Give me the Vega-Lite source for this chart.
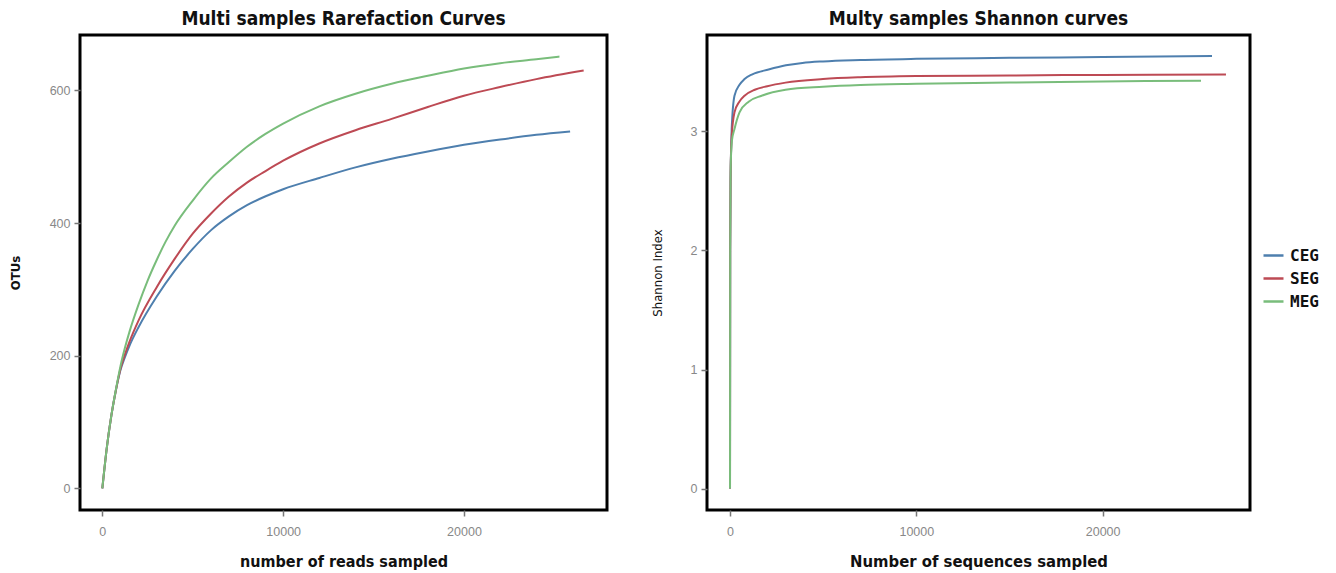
{
  "$schema": "https://vega.github.io/schema/vega-lite/v6.json",
  "background": "white",
  "padding": {"left": 7, "top": 8, "right": 5, "bottom": 5},
  "spacing": 40,
  "datasets": {
    "rare": [
      {"group": "CEG", "reads": 0, "otus": 0},
      {"group": "CEG", "reads": 250, "otus": 62},
      {"group": "CEG", "reads": 500, "otus": 110},
      {"group": "CEG", "reads": 750, "otus": 148},
      {"group": "CEG", "reads": 1000, "otus": 178},
      {"group": "CEG", "reads": 1250, "otus": 198},
      {"group": "CEG", "reads": 1500, "otus": 215},
      {"group": "CEG", "reads": 2000, "otus": 243},
      {"group": "CEG", "reads": 3000, "otus": 289},
      {"group": "CEG", "reads": 4000, "otus": 328},
      {"group": "CEG", "reads": 5000, "otus": 361},
      {"group": "CEG", "reads": 6000, "otus": 389},
      {"group": "CEG", "reads": 7000, "otus": 410},
      {"group": "CEG", "reads": 8000, "otus": 427},
      {"group": "CEG", "reads": 9000, "otus": 440},
      {"group": "CEG", "reads": 10000, "otus": 451},
      {"group": "CEG", "reads": 12000, "otus": 468},
      {"group": "CEG", "reads": 14000, "otus": 484},
      {"group": "CEG", "reads": 16000, "otus": 497},
      {"group": "CEG", "reads": 18000, "otus": 508},
      {"group": "CEG", "reads": 20000, "otus": 518},
      {"group": "CEG", "reads": 22000, "otus": 526},
      {"group": "CEG", "reads": 24000, "otus": 533},
      {"group": "CEG", "reads": 25870, "otus": 538},
      {"group": "SEG", "reads": 0, "otus": 0},
      {"group": "SEG", "reads": 250, "otus": 62},
      {"group": "SEG", "reads": 500, "otus": 110},
      {"group": "SEG", "reads": 750, "otus": 148},
      {"group": "SEG", "reads": 1000, "otus": 180},
      {"group": "SEG", "reads": 1250, "otus": 202},
      {"group": "SEG", "reads": 1500, "otus": 221},
      {"group": "SEG", "reads": 2000, "otus": 253},
      {"group": "SEG", "reads": 3000, "otus": 303},
      {"group": "SEG", "reads": 4000, "otus": 346},
      {"group": "SEG", "reads": 5000, "otus": 384},
      {"group": "SEG", "reads": 6000, "otus": 414},
      {"group": "SEG", "reads": 7000, "otus": 440},
      {"group": "SEG", "reads": 8000, "otus": 461},
      {"group": "SEG", "reads": 9000, "otus": 478},
      {"group": "SEG", "reads": 10000, "otus": 494},
      {"group": "SEG", "reads": 12000, "otus": 520},
      {"group": "SEG", "reads": 14000, "otus": 540},
      {"group": "SEG", "reads": 16000, "otus": 557},
      {"group": "SEG", "reads": 18000, "otus": 575},
      {"group": "SEG", "reads": 20000, "otus": 592},
      {"group": "SEG", "reads": 22000, "otus": 605},
      {"group": "SEG", "reads": 24000, "otus": 617},
      {"group": "SEG", "reads": 26620, "otus": 630},
      {"group": "MEG", "reads": 0, "otus": 0},
      {"group": "MEG", "reads": 250, "otus": 62},
      {"group": "MEG", "reads": 500, "otus": 110},
      {"group": "MEG", "reads": 750, "otus": 149},
      {"group": "MEG", "reads": 1000, "otus": 184},
      {"group": "MEG", "reads": 1250, "otus": 212},
      {"group": "MEG", "reads": 1500, "otus": 236},
      {"group": "MEG", "reads": 2000, "otus": 277},
      {"group": "MEG", "reads": 2500, "otus": 313},
      {"group": "MEG", "reads": 3000, "otus": 344},
      {"group": "MEG", "reads": 3500, "otus": 372},
      {"group": "MEG", "reads": 4000, "otus": 396},
      {"group": "MEG", "reads": 5000, "otus": 434},
      {"group": "MEG", "reads": 6000, "otus": 467},
      {"group": "MEG", "reads": 7000, "otus": 492},
      {"group": "MEG", "reads": 8000, "otus": 515},
      {"group": "MEG", "reads": 9000, "otus": 534},
      {"group": "MEG", "reads": 10000, "otus": 550},
      {"group": "MEG", "reads": 12000, "otus": 576},
      {"group": "MEG", "reads": 14000, "otus": 595},
      {"group": "MEG", "reads": 16000, "otus": 610},
      {"group": "MEG", "reads": 18000, "otus": 622},
      {"group": "MEG", "reads": 20000, "otus": 633},
      {"group": "MEG", "reads": 22000, "otus": 641},
      {"group": "MEG", "reads": 24000, "otus": 647},
      {"group": "MEG", "reads": 25280, "otus": 651}
    ],
    "shannon": [
      {"group": "CEG", "reads": 0, "shannon": 0},
      {"group": "CEG", "reads": 10, "shannon": 2.0},
      {"group": "CEG", "reads": 30, "shannon": 2.6},
      {"group": "CEG", "reads": 60, "shannon": 2.85},
      {"group": "CEG", "reads": 90, "shannon": 3.02},
      {"group": "CEG", "reads": 240, "shannon": 3.3},
      {"group": "CEG", "reads": 500, "shannon": 3.39},
      {"group": "CEG", "reads": 780, "shannon": 3.44},
      {"group": "CEG", "reads": 1200, "shannon": 3.48},
      {"group": "CEG", "reads": 2070, "shannon": 3.52},
      {"group": "CEG", "reads": 3000, "shannon": 3.555},
      {"group": "CEG", "reads": 3890, "shannon": 3.575},
      {"group": "CEG", "reads": 4990, "shannon": 3.588},
      {"group": "CEG", "reads": 7000, "shannon": 3.6},
      {"group": "CEG", "reads": 10000, "shannon": 3.61},
      {"group": "CEG", "reads": 15000, "shannon": 3.618},
      {"group": "CEG", "reads": 20000, "shannon": 3.625},
      {"group": "CEG", "reads": 25870, "shannon": 3.633},
      {"group": "SEG", "reads": 0, "shannon": 0},
      {"group": "SEG", "reads": 10, "shannon": 2.0},
      {"group": "SEG", "reads": 30, "shannon": 2.6},
      {"group": "SEG", "reads": 60, "shannon": 2.85},
      {"group": "SEG", "reads": 100, "shannon": 2.98},
      {"group": "SEG", "reads": 240, "shannon": 3.16},
      {"group": "SEG", "reads": 500, "shannon": 3.25},
      {"group": "SEG", "reads": 780, "shannon": 3.3},
      {"group": "SEG", "reads": 1330, "shannon": 3.35},
      {"group": "SEG", "reads": 2000, "shannon": 3.38},
      {"group": "SEG", "reads": 2980, "shannon": 3.41},
      {"group": "SEG", "reads": 4990, "shannon": 3.44},
      {"group": "SEG", "reads": 7000, "shannon": 3.455},
      {"group": "SEG", "reads": 10000, "shannon": 3.465},
      {"group": "SEG", "reads": 15000, "shannon": 3.47},
      {"group": "SEG", "reads": 20000, "shannon": 3.475},
      {"group": "SEG", "reads": 26620, "shannon": 3.479},
      {"group": "MEG", "reads": 0, "shannon": 0},
      {"group": "MEG", "reads": 10, "shannon": 2.0},
      {"group": "MEG", "reads": 30, "shannon": 2.6},
      {"group": "MEG", "reads": 60, "shannon": 2.82},
      {"group": "MEG", "reads": 100, "shannon": 2.92},
      {"group": "MEG", "reads": 240, "shannon": 3.02},
      {"group": "MEG", "reads": 510, "shannon": 3.16},
      {"group": "MEG", "reads": 1000, "shannon": 3.25},
      {"group": "MEG", "reads": 1700, "shannon": 3.3},
      {"group": "MEG", "reads": 2980, "shannon": 3.35},
      {"group": "MEG", "reads": 4990, "shannon": 3.375},
      {"group": "MEG", "reads": 7000, "shannon": 3.39},
      {"group": "MEG", "reads": 10000, "shannon": 3.4},
      {"group": "MEG", "reads": 15000, "shannon": 3.41},
      {"group": "MEG", "reads": 20000, "shannon": 3.42},
      {"group": "MEG", "reads": 25280, "shannon": 3.426}
    ]
  },
  "config": {
    "view": {"stroke": "black", "strokeWidth": 3},
    "axis": {
      "grid": false,
      "domain": false,
      "tickColor": "#777",
      "tickSize": 6,
      "tickWidth": 1.5,
      "labelColor": "#888",
      "labelFont": "Liberation Sans",
      "labelFontSize": 12.5,
      "titleFont": "DejaVu Sans Condensed, Liberation Sans, sans-serif",
      "titleColor": "#111"
    },
    "title": {
      "font": "DejaVu Sans Condensed, Liberation Sans, sans-serif",
      "fontSize": 19,
      "fontWeight": "bold",
      "color": "#111",
      "offset": 6
    },
    "legend": {
      "orient": "none",
      "legendX": 1182,
      "legendY": 209,
      "symbolType": "stroke",
      "symbolSize": 400,
      "symbolStrokeWidth": 2.5,
      "labelOffset": 5,
      "labelFont": "DejaVu Sans Mono",
      "labelFontWeight": "bold",
      "labelFontSize": 16,
      "labelColor": "#111",
      "rowPadding": 3
    }
  },
  "hconcat": [
    {
      "width": 527,
      "height": 475,
      "title": {"text": "Multi samples Rarefaction Curves"},
      "data": {"name": "rare"},
      "mark": {"type": "line", "strokeWidth": 2, "interpolate": "monotone"},
      "encoding": {
        "x": {
          "field": "reads", "type": "quantitative",
          "scale": {"domain": [-1235, 27910], "nice": false, "zero": false},
          "axis": {"values": [0, 10000, 20000], "format": "d", "title": "number of reads sampled",
                   "titleFontSize": 16, "titleFontWeight": "bold", "labelPadding": 9, "titlePadding": 16}
        },
        "y": {
          "field": "otus", "type": "quantitative",
          "scale": {"domain": [-32.5, 683.5], "nice": false, "zero": false},
          "axis": {"values": [0, 200, 400, 600], "title": "OTUs", "titleFontSize": 13,
                   "titleFontWeight": "bold", "labelPadding": 4, "titlePadding": 27}
        },
        "color": {
          "field": "group", "type": "nominal",
          "scale": {"domain": ["CEG", "SEG", "MEG"], "range": ["#4e7fae", "#bd4a54", "#79bd7b"]},
          "legend": {"title": null}
        }
      }
    },
    {
      "width": 543,
      "height": 475,
      "title": {"text": "Multy samples Shannon curves"},
      "data": {"name": "shannon"},
      "mark": {"type": "line", "strokeWidth": 2, "interpolate": "monotone"},
      "encoding": {
        "x": {
          "field": "reads", "type": "quantitative",
          "scale": {"domain": [-1235, 27910], "nice": false, "zero": false},
          "axis": {"values": [0, 10000, 20000], "format": "d", "title": "Number of sequences sampled",
                   "titleFontSize": 16.5, "titleFontWeight": "bold", "labelPadding": 9, "titlePadding": 16}
        },
        "y": {
          "field": "shannon", "type": "quantitative",
          "scale": {"domain": [-0.18, 3.81], "nice": false, "zero": false},
          "axis": {"values": [0, 1, 2, 3], "title": "Shannon Index", "titleFontSize": 13,
                   "titleFontWeight": "normal", "labelPadding": 4, "titlePadding": 26}
        },
        "color": {
          "field": "group", "type": "nominal",
          "scale": {"domain": ["CEG", "SEG", "MEG"], "range": ["#4e7fae", "#bd4a54", "#79bd7b"]},
          "legend": {"title": null}
        }
      }
    }
  ]
}
